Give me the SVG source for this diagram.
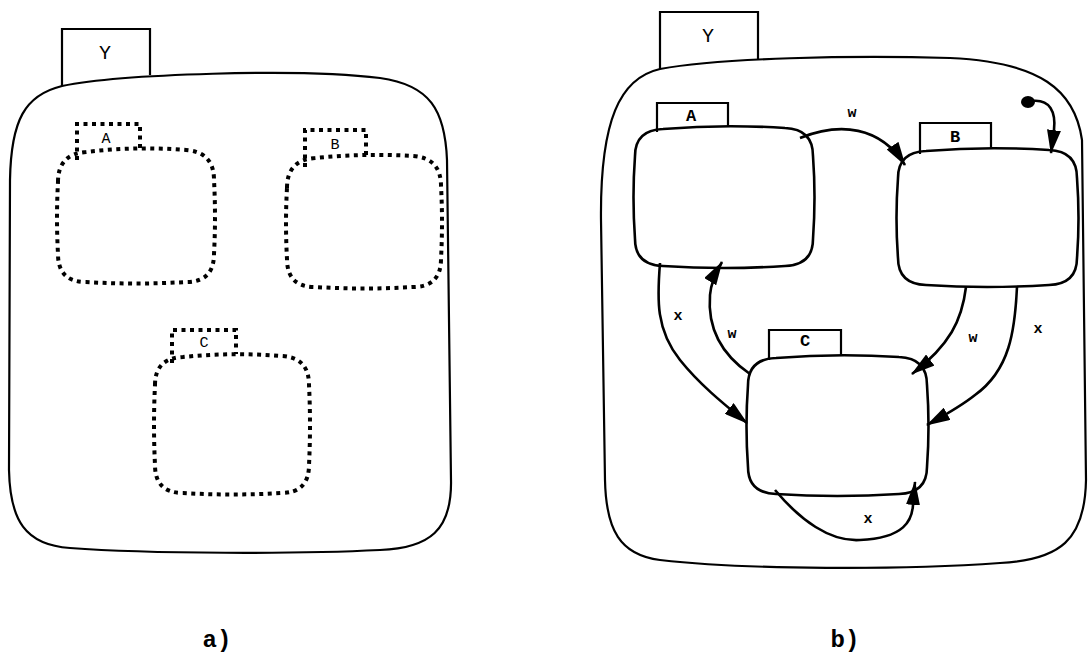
<svg xmlns="http://www.w3.org/2000/svg" width="1088" height="667" viewBox="0 0 1088 667">
<style>
.outer{fill:none;stroke:#000;stroke-width:2.2}
.dot{fill:none;stroke:#000;stroke-width:4;stroke-dasharray:4 4.5}
.st{fill:none;stroke:#000;stroke-width:2.6}
.tab{fill:none;stroke:#000;stroke-width:2.2}
.con{fill:none;stroke:#000;stroke-width:2.6}
.ty{font-family:"Liberation Mono",monospace;font-size:20px;text-anchor:middle;fill:#000}
.ta{font-family:"Liberation Mono",monospace;font-size:15px;text-anchor:middle;fill:#000}
.tb{font-family:"Liberation Mono",monospace;font-size:17px;font-weight:bold;text-anchor:middle;fill:#000}
.lb{font-family:"Liberation Mono",monospace;font-size:15px;font-weight:bold;text-anchor:middle;fill:#000}
.cap{font-family:"Liberation Mono",monospace;font-size:24px;font-weight:bold;text-anchor:middle;fill:#000}
</style>
<defs>
<marker id="ah" markerUnits="userSpaceOnUse" markerWidth="24" markerHeight="14" refX="23" refY="7" orient="auto">
<path d="M0,0 L24,7 L0,14 Z" fill="#000"/>
</marker>
</defs>
<!-- Panel a -->
<g id="a-Y">
<path class="outer" d="M62,86 L62,29 L150,29 L150,75"/>
<path class="outer" d="M62,86 C120,74 300,68 380,78 C430,85 445,110 447,160 L451,480 C452,530 430,548 380,550 C300,554 150,554 70,548 C25,545 10,520 9,470 L10,180 C11,120 25,95 62,86 Z"/>
<text class="ty" x="105" y="59">Y</text>
</g>
<g id="a-A">
<path class="dot" d="M77,160 L77,124 L140,124 L140,150"/>
<path class="dot" d="M58,182 Q58,154 86,152 Q136,146 186,150 Q214,152 214,180 Q216,217 214,254 Q214,282 186,282 Q136,285 86,282 Q58,282 58,254 Q56,218 58,182 Z"/>
<text class="ta" x="106" y="143">A</text>
</g>
<g id="a-B">
<path class="dot" d="M305,167 L305,130 L366,130 L366,156"/>
<path class="dot" d="M287,188 Q287,160 315,158 Q364,153 413,156 Q441,158 441,186 Q443,222 441,259 Q441,287 413,287 Q364,290 315,287 Q287,287 287,259 Q285,223 287,188 Z"/>
<text class="ta" x="335" y="149">B</text>
</g>
<g id="a-C">
<path class="dot" d="M172,363 L172,330 L236,330 L236,354"/>
<path class="dot" d="M155,385 Q155,358 183,357 Q232,352 281,356 Q309,357 309,385 Q311,425 309,465 Q309,493 281,493 Q232,496 183,493 Q155,493 155,465 Q153,425 155,385 Z"/>
<text class="ta" x="204" y="347">C</text>
</g>
<!-- Panel b -->
<g id="b-Y">
<path class="outer" d="M660,69 L660,12 L758,12 L758,59"/>
<path class="outer" d="M660,69 C720,58 850,55 950,58 C1040,62 1075,90 1082,140 L1086,480 C1085,540 1060,560 1000,563 C900,570 750,570 660,560 C620,555 606,530 605,480 L601,220 C600,120 620,78 660,69 Z"/>
<text class="ty" x="708" y="42">Y</text>
</g>
<g id="b-A">
<path class="tab" d="M657,132 L657,103 L728,103 L728,126"/>
<path class="st" d="M635,156 Q635,130 663,129 Q724,124 785,128 Q813,129 813,156 Q816,197 813,239 Q813,265 785,266 Q724,270 663,266 Q635,265 635,239 Q632,197 635,156 Z"/>
<text class="tb" x="691" y="121">A</text>
</g>
<g id="b-B">
<path class="tab" d="M920,154 L920,123 L991,123 L991,148"/>
<path class="st" d="M898,178 Q898,152 926,151 Q987,146 1049,150 Q1077,151 1077,178 Q1080,218 1077,258 Q1077,284 1049,285 Q987,289 926,285 Q898,284 898,258 Q895,218 898,178 Z"/>
<text class="tb" x="955" y="142">B</text>
</g>
<g id="b-C">
<path class="tab" d="M769,360 L769,330 L841,330 L841,355"/>
<path class="st" d="M748,385 Q748,359 776,358 Q837,353 899,357 Q927,358 927,385 Q930,426 927,467 Q927,493 899,494 Q837,498 776,494 Q748,493 748,467 Q745,426 748,385 Z"/>
<text class="tb" x="805" y="346">C</text>
</g>
<g id="connectors">
<ellipse cx="1028" cy="102" rx="7" ry="6" fill="#000"/>
<path class="con" marker-end="url(#ah)" d="M1032,101 C1050,99 1056,112 1054,130 L1051,153"/>
<path class="con" marker-end="url(#ah)" d="M800,138 C840,122 880,126 905,165"/>
<path class="con" marker-end="url(#ah)" d="M660,263 C657,300 656,330 680,360 C700,385 725,405 747,423"/>
<path class="con" marker-end="url(#ah)" d="M750,374 C715,350 708,320 710,295 C711,283 716,272 722,262"/>
<path class="con" marker-end="url(#ah)" d="M966,287 C962,320 950,345 912,374"/>
<path class="con" marker-end="url(#ah)" d="M1017,287 C1015,330 1010,370 975,395 C960,407 945,415 927,425"/>
<path class="con" marker-end="url(#ah)" d="M775,490 C800,520 830,542 860,540 C905,538 912,520 913,505 L915,482"/>
<text class="lb" x="852" y="117">w</text>
<text class="lb" x="678" y="320">x</text>
<text class="lb" x="732" y="338">w</text>
<text class="lb" x="973" y="342">w</text>
<text class="lb" x="1038" y="333">x</text>
<text class="lb" x="868" y="523">x</text>
</g>
<text class="cap" x="217" y="647">a)</text>
<text class="cap" x="845" y="647">b)</text>
</svg>
